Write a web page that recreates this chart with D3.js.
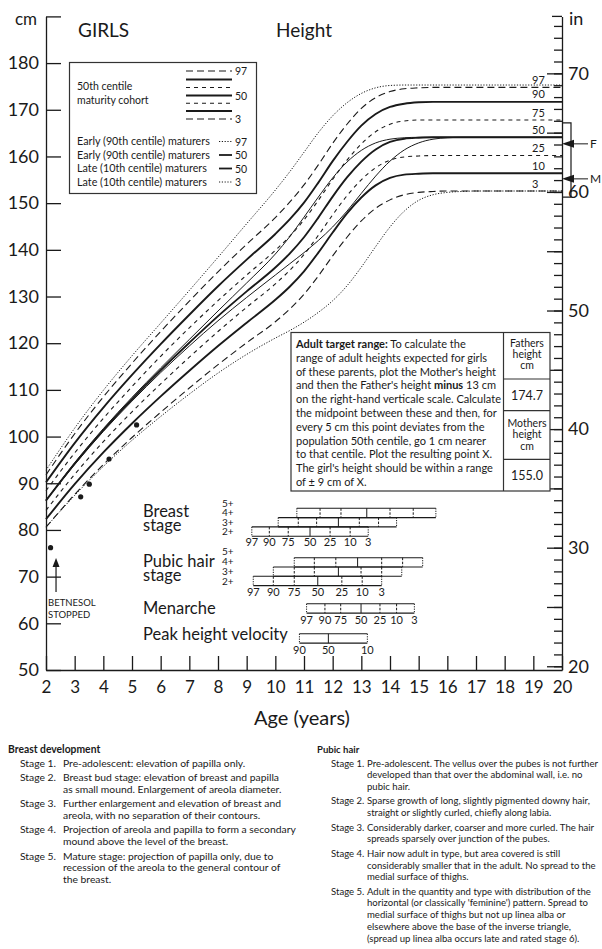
<!DOCTYPE html>
<html><head><meta charset="utf-8">
<script src="https://cdn.jsdelivr.net/npm/d3@7"></script>
<style>
body{margin:0;background:#fff}
svg{display:block}
text{font-family:Lato,'Open Sans',sans-serif;fill:#1a1a1a}
</style></head>
<body><svg id="c" width="602" height="949"></svg>
<script>
// ---------- DATA ----------
const ages = [2,3,4,5,6,7,8,9,10,10.5,11,11.5,12,12.5,13,13.5,14,14.5,15,15.5,16,16.5,17,18,19,20];
// 50th centile maturity cohort (cm)
const c97 = [91.8,100.6,108.5,115.7,122.5,129.0,135.3,141.2,146.9,150.2,153.9,158.2,162.8,166.9,170.3,172.6,173.9,174.5,174.7,174.8,174.8,174.8,174.8,174.8,174.8,174.8];
const c90 = [90.2,98.6,106.2,113.2,119.8,126.1,132.2,137.9,143.4,146.5,150.1,154.4,159.0,163.1,166.6,169.1,170.6,171.3,171.6,171.7,171.7,171.7,171.7,171.7,171.7,171.7];
const c75 = [88.4,96.5,103.9,110.7,117.2,123.3,129.1,134.6,139.9,142.9,146.4,150.6,155.1,159.2,162.7,165.3,166.9,167.6,167.8,167.8,167.8,167.8,167.8,167.8,167.8,167.8];
const c50 = [86.3,94.2,101.4,108.0,114.2,120.1,125.8,131.1,136.2,139.2,142.7,146.9,151.4,155.5,158.9,161.5,163.1,163.8,164.0,164.1,164.1,164.1,164.1,164.1,164.1,164.1];
const c25 = [84.2,91.9,98.9,105.3,111.3,117.0,122.5,127.7,132.7,135.6,139.0,143.1,147.5,151.6,155.0,157.6,159.2,159.9,160.1,160.2,160.2,160.2,160.2,160.2,160.2,160.2];
const c10 = [82.3,89.8,96.6,102.8,108.6,114.1,119.4,124.4,129.3,132.1,135.4,139.4,143.7,147.8,151.2,153.8,155.4,156.1,156.3,156.4,156.4,156.4,156.4,156.4,156.4,156.4];
const c03 = [80.6,87.6,94.0,99.8,105.2,110.4,115.4,120.1,124.6,127.3,130.5,134.4,138.7,142.7,146.2,148.9,150.7,151.8,152.3,152.5,152.6,152.6,152.6,152.6,152.6,152.6];
// early (90th centile) and late (10th centile) maturers
const e97 = [92.8,101.8,109.9,117.3,124.3,131.3,138.4,145.6,152.8,156.7,160.9,165.1,168.7,171.5,173.5,174.7,175.2,175.3,175.3,175.3,175.3,175.3,175.3,175.3,175.3,175.3];
const e50 = [86.3,94.4,101.7,108.4,114.7,120.8,126.9,132.9,139.1,142.8,147.0,151.3,155.4,158.8,161.3,162.9,163.7,164.0,164.1,164.1,164.1,164.1,164.1,164.1,164.1,164.1];
const l50 = [86.3,94.0,101.1,107.6,113.7,119.4,124.8,129.8,134.6,137.0,139.4,142.0,144.9,148.3,152.1,155.8,159.0,161.4,162.9,163.7,164.0,164.1,164.1,164.1,164.1,164.1];
const l03 = [80.6,87.4,93.6,99.2,104.3,109.1,113.6,117.6,121.1,122.7,124.5,126.6,129.1,132.3,136.3,140.7,144.9,148.3,150.6,151.8,152.3,152.5,152.6,152.6,152.6,152.6];

const centileNames = ['97','90','75','50','25','10','3'];
// patient measurements
const patientAges = [2.16,3.21,3.51,4.2,5.16];
const patientHeights = [76.2,87.1,89.8,95.2,102.5];

// axis ticks
const cmTicks = d3.range(50,191,10);
const inTicks = d3.range(20,75,1);
const ageTicks = d3.range(2,21,1);

// stage bars: ages at centiles 97,90,75,50,25,10,3
const barCentiles = ['97','90','75','50','25','10','3'];
const breast2 = [9.18,9.79,10.45,11.21,11.91,12.61,13.24];
const breast3 = [10.10,10.80,11.44,12.20,12.93,13.60,14.23];
const breast4 = [10.75,11.56,12.29,13.19,14.00,14.81,15.60];
const pubic2 = [9.23,9.93,10.66,11.48,12.32,13.03,13.71];
const pubic3 = [9.93,10.66,11.36,12.20,12.99,13.71,14.41];
const pubic4 = [10.66,11.36,12.11,12.87,13.71,14.44,15.14];
const menarche = [11.09,11.73,12.28,12.99,13.65,14.23,14.85];
const phvCentiles = ['90','50','10'];
const phv = [10.84,11.85,13.21];
const stageLabels = ['5+','4+','3+','2+'];

// target range
const fatherHeight = '174.7', motherHeight = '155.0';
const arrowF = 162.7, arrowM = 155.2;
const targetRange = [151.3, 167.2];

// steroid annotation
const betnesolAge = 2.35, betnesolFrom = 66.7, betnesolTo = 74.0;

const targetText = [
 [['Adult target range:',true],[' To calculate the',false]],
 [['range of adult heights expected for girls',false]],
 [["of these parents, plot the Mother's height",false]],
 [["and then the Father's height ",false],['minus',true],[' 13 cm',false]],
 [['on the right-hand verticale scale. Calculate',false]],
 [['the midpoint between these and then, for',false]],
 [['every 5 cm this point deviates from the',false]],
 [['population 50th centile, go 1 cm nearer',false]],
 [['to that centile. Plot the resulting point X.',false]],
 [["The girl's height should be within a range",false]],
 [['of \u00b1 9 cm of X.',false]]
];

const breastStages = [
 ['Stage 1.',['Pre-adolescent: elevation of papilla only.']],
 ['Stage 2.',['Breast bud stage: elevation of breast and papilla','as small mound. Enlargement of areola diameter.']],
 ['Stage 3.',['Further enlargement and elevation of breast and','areola, with no separation of their contours.']],
 ['Stage 4.',['Projection of areola and papilla to form a secondary','mound above the level of the breast.']],
 ['Stage 5.',['Mature stage: projection of papilla only, due to','recession of the areola to the general contour of','the breast.']]
];
const pubicStages = [
 ['Stage 1.',['Pre-adolescent. The vellus over the pubes is not further','developed than that over the abdominal wall, i.e. no','pubic hair.']],
 ['Stage 2.',['Sparse growth of long, slightly pigmented downy hair,','straight or slightly curled, chiefly along labia.']],
 ['Stage 3.',['Considerably darker, coarser and more curled. The hair','spreads sparsely over junction of the pubes.']],
 ['Stage 4.',['Hair now adult in type, but area covered is still','considerably smaller that in the adult. No spread to the','medial surface of thighs.']],
 ['Stage 5.',["Adult in the quantity and type with distribution of the","horizontal (or classically 'feminine') pattern. Spread to","medial surface of thighs but not up linea alba or","elsewhere above the base of the inverse triangle,","(spread up linea alba occurs late and rated stage 6)."]]
];

// ---------- DRAWING ----------
const svg = d3.select('#c');
const x = d3.scaleLinear().domain([2,20]).range([46,562]);
const y = d3.scaleLinear().domain([50,190]).range([670,16.4]);
const yIn = d3.scaleLinear().domain([50/2.54,190/2.54]).range([670,16.4]);
const ink = '#1a1a1a';

function maxLen(sel){ let m=0; sel.each(function(){ m=Math.max(m,this.getComputedTextLength()); }); return m; }
function fitFont(g, sel, base, target){ g.attr('font-size',base); const m=maxLen(sel); g.attr('font-size',(base*target/m).toFixed(2)); }

// axes
const gL = svg.append('g').attr('transform',`translate(${x(2)},0)`)
  .call(d3.axisLeft(y).tickValues(cmTicks).tickSize(-15).tickSizeOuter(0).tickPadding(7).tickFormat(d=>d===190?'':d));
const gB = svg.append('g').attr('transform',`translate(0,${y(50)})`)
  .call(d3.axisBottom(x).tickValues(ageTicks).tickSize(-14).tickSizeOuter(0).tickPadding(11));
const gR = svg.append('g').attr('transform',`translate(${x(20)},0)`)
  .call(d3.axisRight(yIn).tickValues(inTicks).tickSize(-8).tickSizeOuter(0).tickFormat(()=>''));
const gR2 = svg.append('g').attr('transform',`translate(${x(20)},0)`)
  .call(d3.axisRight(yIn).tickValues(inTicks.filter(d=>d%5===0)).tickSize(-15).tickSizeOuter(0).tickPadding(6).tickFormat(d=>d%10===0?d:''));
gR2.select('.domain').remove();
[gL,gB,gR,gR2].forEach(g=>{
  g.selectAll('path,line').attr('stroke',ink).attr('stroke-width',1.3);
  g.selectAll('text').attr('font-size',18).attr('font-family','Lato,sans-serif').attr('fill',ink);
});
gB.selectAll('text').attr('font-size',17);
svg.append('line').attr('x1',x(20)-10).attr('x2',x(20)).attr('y1',y(190)).attr('y2',y(190)).attr('stroke',ink).attr('stroke-width',1.3);

svg.append('text').attr('x',15).attr('y',25).attr('font-size',17).text('cm');
svg.append('text').attr('x',569).attr('y',25).attr('font-size',18).text('in');
svg.append('text').attr('x',78).attr('y',37).attr('font-size',19).text('GIRLS');
svg.append('text').attr('x',276).attr('y',37).attr('font-size',19).text('Height');
svg.append('text').attr('x',302).attr('y',725).attr('font-size',20).attr('text-anchor','middle').text('Age (years)');

// curves
const line = d3.line().x((d,i)=>x(ages[i])).y(d=>y(d)).curve(d3.curveMonotoneX);
const cohort = [c97,c90,c75,c50,c25,c10,c03];
const styleOf = {'97':['7,4',1.1],'90':[null,1.9],'75':['4,4',1.1],'50':[null,1.9],'25':['4,4',1.1],'10':[null,1.9],'3':['7,4',1.1]};
const gc = svg.append('g').attr('fill','none').attr('stroke',ink);
cohort.forEach((s,i)=>{
  const st = styleOf[centileNames[i]];
  gc.append('path').attr('d',line(s)).attr('stroke-width',st[1]).attr('stroke-dasharray',st[0]);
});
[[e97,'1.2,1.6',1],[e50,null,1],[l50,null,1],[l03,'1.2,1.6',1]].forEach(([s,da,w])=>{
  gc.append('path').attr('d',line(s)).attr('stroke-width',w).attr('stroke-dasharray',da);
});
svg.append('g').selectAll('text').data(cohort).join('text')
  .attr('x',532).attr('y',s=>y(s[s.length-1])-3.5).attr('font-size',11).text((s,i)=>centileNames[i]);

// patient points
svg.append('g').selectAll('circle').data(patientAges).join('circle')
  .attr('cx',d=>x(d)).attr('cy',(d,i)=>y(patientHeights[i])).attr('r',2.6).attr('fill',ink);

// betnesol annotation
svg.append('line').attr('x1',x(betnesolAge)).attr('x2',x(betnesolAge)).attr('y1',y(betnesolFrom)).attr('y2',y(betnesolTo)+6).attr('stroke',ink).attr('stroke-width',1.2);
svg.append('path').attr('d',`M${x(betnesolAge)},${y(betnesolTo)} l-3.5,9 l7,0 z`).attr('fill',ink);
svg.append('text').attr('x',48).attr('y',606).attr('font-size',9.5).text('BETNESOL');
svg.append('text').attr('x',48).attr('y',618).attr('font-size',9.5).text('STOPPED');

// target range bracket and arrows
const bx = x(20)+9;
svg.append('path').attr('d',`M${x(20)+1},${y(targetRange[1])} H${bx} V${y(targetRange[0])} H${x(20)+1}`).attr('fill','none').attr('stroke',ink).attr('stroke-width',1.2);
[[arrowF,'F'],[arrowM,'M']].forEach(([v,lab])=>{
  const yy=y(v);
  svg.append('line').attr('x1',x(20)+10).attr('x2',588).attr('y1',yy).attr('y2',yy).attr('stroke',ink).attr('stroke-width',1);
  svg.append('path').attr('d',`M${x(20)},${yy} l12,-4 l0,8 z`).attr('fill',ink);
  svg.append('text').attr('x',590).attr('y',yy+4).attr('font-size',12).text(lab);
});

// legend box
const lg = svg.append('g');
lg.append('rect').attr('x',69.5).attr('y',62.5).attr('width',187).attr('height',131).attr('fill','#fff').attr('stroke','#333').attr('stroke-width',1.2);
const lgText = lg.append('g').attr('font-size',10.5);
lgText.append('text').attr('x',77).attr('y',90).text('50th centile');
lgText.append('text').attr('x',77).attr('y',104).text('maturity cohort');
const legendStyles = [['7,4',1.1],[null,1.9],['4,4',1.1],[null,1.9],['4,4',1.1],[null,1.9],['7,4',1.1]];
const legendRowsY = [71,79.5,87.5,95.5,103.3,111,119];
legendStyles.forEach((st,i)=>{
  lg.append('line').attr('x1',186).attr('x2',232).attr('y1',legendRowsY[i]).attr('y2',legendRowsY[i]).attr('stroke',ink).attr('stroke-width',st[1]).attr('stroke-dasharray',st[0]);
});
[['97',0],['50',3],['3',6]].forEach(([t,i])=>lgText.append('text').attr('x',235).attr('y',legendRowsY[i]+4).text(t));
const lowRows = [['Early (90th centile) maturers','97','1.2,1.6',1],['Early (90th centile) maturers','50',null,1.8],['Late (10th centile) maturers','50',null,1.8],['Late (10th centile) maturers','3','1.2,1.6',1]];
const lowY = [141.5,155,168.5,182];
const lowG = lg.append('g');
const lowT = lowG.selectAll('text').data(lowRows).join('text').attr('x',77).attr('y',(d,i)=>lowY[i]+3.5).text(d=>d[0]);
fitFont(lowG, lowT, 10.5, 133);
lowRows.forEach((r,i)=>{
  lg.append('line').attr('x1',219).attr('x2',232).attr('y1',lowY[i]).attr('y2',lowY[i]).attr('stroke',ink).attr('stroke-width',r[3]).attr('stroke-dasharray',r[2]);
  lgText.append('text').attr('x',235).attr('y',lowY[i]+4).text(r[1]);
});

// target box
const tb = svg.append('g');
tb.append('rect').attr('x',291).attr('y',332.5).attr('width',259).attr('height',158.5).attr('fill','#fff').attr('stroke','#333').attr('stroke-width',1.2);
tb.append('line').attr('x1',503.5).attr('x2',503.5).attr('y1',332.5).attr('y2',491).attr('stroke','#333').attr('stroke-width',1.2);
[379,410.7,459.3].forEach(v=>tb.append('line').attr('x1',503.5).attr('x2',550).attr('y1',v).attr('y2',v).attr('stroke','#333').attr('stroke-width',1.2));
const tt = tb.append('g');
const ttl = tt.selectAll('text').data(targetText).join('text').attr('x',296).attr('y',(d,i)=>348+i*13.8);
ttl.each(function(parts){ const t=d3.select(this); parts.forEach(([s,b])=>t.append('tspan').attr('font-weight',b?'bold':null).text(s)); });
fitFont(tt, ttl, 11.5, 205);
const cellT = tb.append('g').attr('font-size',10.5).attr('text-anchor','middle');
[['Fathers',347],['height',358],['cm',368.5],['Mothers',427],['height',438],['cm',450]].forEach(([t,v])=>cellT.append('text').attr('x',527).attr('y',v).text(t));
cellT.append('text').attr('x',527).attr('y',399.5).attr('font-size',12.5).text(fatherHeight);
cellT.append('text').attr('x',527).attr('y',479.5).attr('font-size',12.5).text(motherHeight);

// stage bars
const rowH = 9.3;
function drawBar(vals, top){
  const g = svg.append('g').attr('stroke',ink).attr('fill','none');
  const x0=x(vals[0]), x1=x(vals[vals.length-1]);
  g.append('line').attr('x1',x0).attr('x2',x1).attr('y1',top).attr('y2',top).attr('stroke-width',1.1);
  g.append('line').attr('x1',x0).attr('x2',x1).attr('y1',top+rowH).attr('y2',top+rowH).attr('stroke-width',1.1);
  vals.forEach((v,i)=>{
    const end = i===0||i===vals.length-1;
    const mid = vals.length===7 ? i===3 : i===1;
    g.append('line').attr('x1',x(v)).attr('x2',x(v)).attr('y1',top).attr('y2',top+rowH)
      .attr('stroke-width',1).attr('stroke-dasharray',mid?null:(end?'1.2,1.2':'2.5,1.5'));
  });
}
function barLabels(vals, names, yb){
  svg.append('g').attr('font-size',11).attr('text-anchor','middle').selectAll('text').data(vals).join('text')
    .attr('x',d=>x(d)).attr('y',yb).text((d,i)=>names[i]);
}
drawBar(breast4,508.3); drawBar(breast3,517.6); drawBar(breast2,526.9);
barLabels(breast2,barCentiles,545.5);
drawBar(pubic4,557.7); drawBar(pubic3,567); drawBar(pubic2,576.3);
barLabels(pubic2,barCentiles,595.5);
drawBar(menarche,603.8); barLabels(menarche,barCentiles,624);
drawBar(phv,633.8); barLabels(phv,phvCentiles,654);

const sl = svg.append('g').attr('font-size',16.5);
sl.append('text').attr('x',143).attr('y',516.5).text('Breast');
sl.append('text').attr('x',143).attr('y',530.5).text('stage');
sl.append('text').attr('x',143).attr('y',566.5).text('Pubic hair');
sl.append('text').attr('x',143).attr('y',580.5).text('stage');
sl.append('text').attr('x',143).attr('y',614).text('Menarche');
sl.append('text').attr('x',143).attr('y',640).text('Peak height velocity');
const pl = svg.append('g').attr('font-size',10);
[[503.3,0],[512.3,1],[522,2],[531.5,3],[551.7,0],[561.7,1],[571.4,2],[581,3]].forEach(([v,i])=>pl.append('text').attr('x',222).attr('y',v+3.5).text(stageLabels[i]));

// bottom descriptions
function column(title, stages, hx, sx0, bx0, target){
  const g = svg.append('g');
  g.append('text').attr('x',hx).attr('y',753).attr('font-weight','bold').text(title);
  let yy = 766.5; const body=[];
  stages.forEach(([lab,lines],k)=>{
    if(k>0) yy += 2.8;
    g.append('text').attr('x',sx0).attr('y',yy).text(lab);
    lines.forEach((l,j)=>{ if(j>0) yy+=11.7; body.push(g.append('text').attr('x',bx0).attr('y',yy).text(l).node()); });
    yy += 11.7;
  });
  fitFont(g, d3.selectAll(body), 10, target);
}
column('Breast development', breastStages, 8, 20, 63, 233);
column('Pubic hair', pubicStages, 317, 331, 367, 231);
</script></body></html>
